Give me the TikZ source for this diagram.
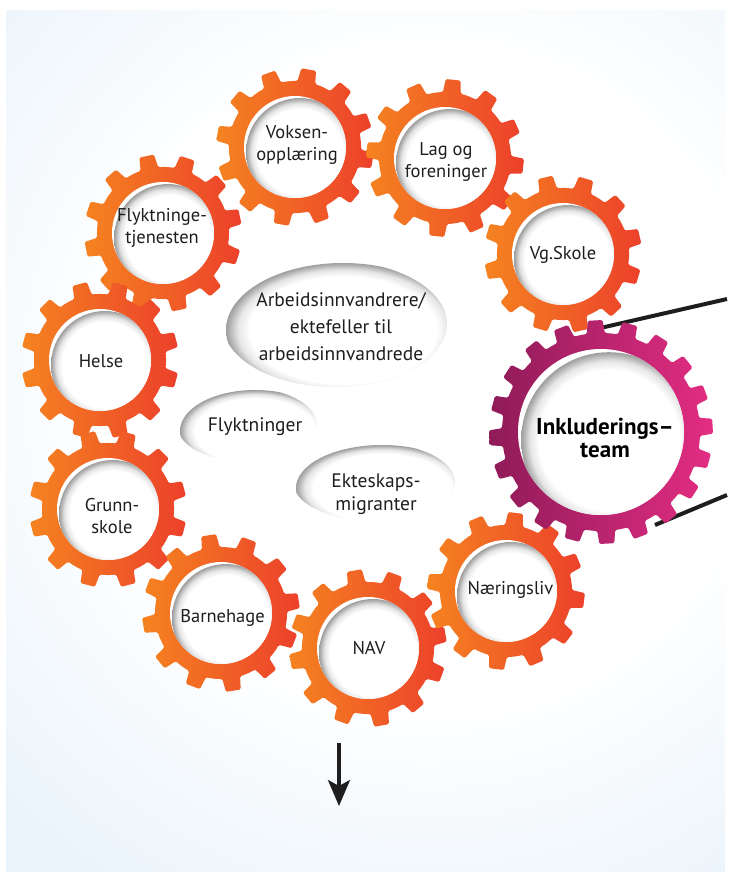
\documentclass[tikz,border=0pt]{standalone}
\usepackage{fontspec}
\setmainfont{PT Sans}
\usetikzlibrary{arrows.meta}

\definecolor{gearL}{RGB}{245,131,32}
\definecolor{gearR}{RGB}{236,64,43}
\definecolor{teamL}{RGB}{143,27,88}
\definecolor{teamR}{RGB}{227,45,131}
\definecolor{bgblue}{RGB}{233,243,251}
\definecolor{ink}{RGB}{30,30,30}

% soft shadow along the upper left rim of a recess
\pgfdeclareradialshading{innershadow}{\pgfpoint{0bp}{0bp}}{%
  color(0bp)=(white); color(20bp)=(white); color(22.5bp)=(black!10);
  color(25bp)=(black!38); color(50bp)=(black!42)}
% pale blue backdrop, white in the middle
\pgfdeclareradialshading{backdrop}{\pgfpoint{0bp}{0bp}}{%
  color(0bp)=(white); color(10bp)=(white); color(19.5bp)=(bgblue); color(50bp)=(bgblue)}

% toothed wheel: centre x, centre y, teeth, rim radius, tip radius, rotation, style
\newcommand\cogwheel[7]{%
  \pgfmathsetmacro\cwstep{360/#3}%
  \pgfmathsetmacro\cwbase{9/#4*57.2958}%
  \pgfmathsetmacro\cwtip{7.5/#5*57.2958}%
  \pgfmathtruncatemacro\cwlast{#3-1}%
  \begin{scope}[shift={(#1,#2)}]
    \shade[#7, rounded corners=1.5pt]
      ({#6-\cwbase}:#4) -- ({#6-\cwtip}:#5) -- ({#6+\cwtip}:#5) -- ({#6+\cwbase}:#4)
      \foreach \k in {1,...,\cwlast} {
        arc[start angle={#6+(\k-1)*\cwstep+\cwbase}, end angle={#6+\k*\cwstep-\cwbase}, radius=#4]
        -- ({#6+\k*\cwstep-\cwtip}:#5) -- ({#6+\k*\cwstep+\cwtip}:#5)
        -- ({#6+\k*\cwstep+\cwbase}:#4)
      }
      arc[start angle={#6+\cwlast*\cwstep+\cwbase}, end angle={#6+360-\cwbase}, radius=#4]
      -- cycle;
  \end{scope}}

% white recess in a wheel: centre x, centre y, radius, shadow offset
\newcommand\hollow[4]{%
  \begin{scope}[shift={(#1,#2)}]
    \fill[white] (0,0) circle[radius=#3];
    \clip (0,0) circle[radius=#3];
    \pgfmathsetmacro\hwr{#3+0.6*#4}%
    \shade[shading=innershadow] (#4,#4) circle[radius=\hwr];
  \end{scope}}

% sunken oval: centre x, centre y, x radius, y radius
\newcommand\pebble[4]{%
  \begin{scope}[shift={(#1,#2)}]
    \fill[white] (0,0) ellipse[x radius=#3, y radius=#4];
    \clip (0,0) ellipse[x radius=#3, y radius=#4];
    \pgfmathsetmacro\pxr{#3+5}\pgfmathsetmacro\pyr{#4+4}%
    \shade[shading=innershadow] (8,6) ellipse[x radius=\pxr, y radius=\pyr];
  \end{scope}}

% one partner wheel with its recess
\newcommand\partner[3]{% centre x, centre y, rotation
  \cogwheel{#1}{#2}{12}{66}{79}{#3}{orangecog}\hollow{#1}{#2}{51}{5}}

\tikzset{
  orangecog/.style={left color=gearL, right color=gearR},
  teamcog/.style={left color=teamL, right color=teamR},
  cogtext/.style={font=\fontsize{18.5}{22}\selectfont, align=center, text=ink, inner sep=0pt},
  grouptext/.style={font=\fontsize{19.5}{27}\selectfont, align=center, text=ink, inner sep=0pt},
  teamtext/.style={font=\bfseries\fontsize{23}{23}\selectfont, align=center, text=black, inner sep=0pt},
  belt/.style={line width=4pt, draw=ink},
}

\begin{document}
\begin{tikzpicture}[x=1pt, y=-1pt, line join=round]
\useasboundingbox (0,0) rectangle (731,872);
\fill[white] (0,0) rectangle (731,872);
\begin{scope}
  \clip (6,11) rectangle (725,872);
  \shade[shading=backdrop] (430,380) circle[radius=800];
\end{scope}

% belt running off to the right
\coordinate (beltA1) at (596,329);
\coordinate (beltA2) at (727,299);
\coordinate (beltB1) at (655,525);
\coordinate (beltB2) at (727,495);
\draw[belt] (beltA1) -- (beltA2);
\draw[belt] (beltB1) -- (beltB2);

% ring of cooperating partners
\partner{163}{233}{18}
\partner{295}{147}{10}
\partner{445}{158}{6}
\partner{563}{254}{17}
\partner{100}{360}{15}
\partner{108}{509}{15}
\partner{221}{613}{21}
\partner{368}{648}{20}
\partner{506}{591}{7}

% the driving wheel
\cogwheel{601}{432}{20}{99}{112}{15}{teamcog} \hollow{601}{432}{83}{8}

% target groups
\pebble{335}{324}{112}{63}
\pebble{247}{425}{70}{37}
\pebble{374}{482}{81}{39}

\node[cogtext] (flykttj) at (162,228) {Flyktninge-\\tjenesten};
\node[cogtext] (voksen) at (297,145) {Voksen-\\opplæring};
\node[cogtext] (lag) at (446,162) {Lag og\\foreninger};
\node[cogtext] (vgs) at (563,255) {Vg.Skole};
\node[cogtext] (helse) at (101,361) {Helse};
\node[cogtext] (grunn) at (112,516) {Grunn-\\skole};
\node[cogtext] (barnehage) at (222.5,617.5) {Barnehage};
\node[cogtext] (nav) at (369,648.5) {NAV};
\node[cogtext] (naering) at (510.5,590) {Næringsliv};
\node[teamtext] (team) at (605,438) {Inkluderings–\\team};

\node[grouptext] (arbeid) at (341,327) {Arbeidsinnvandrere/\\ektefeller til\\arbeidsinnvandrede};
\node[grouptext] (flykt) at (255,426.5) {Flyktninger};
\node[grouptext, font=\fontsize{19.5}{23}\selectfont] (ekteskap) at (376,494) {Ekteskaps-\\migranter};

% outflow arrow
\coordinate (down1) at (339,743);
\coordinate (down2) at (339,806);
\draw[line width=3.5pt, draw=ink, -{Stealth[length=26pt, width=22pt, inset=6pt]}] (down1) -- (down2);
\end{tikzpicture}
\end{document}
